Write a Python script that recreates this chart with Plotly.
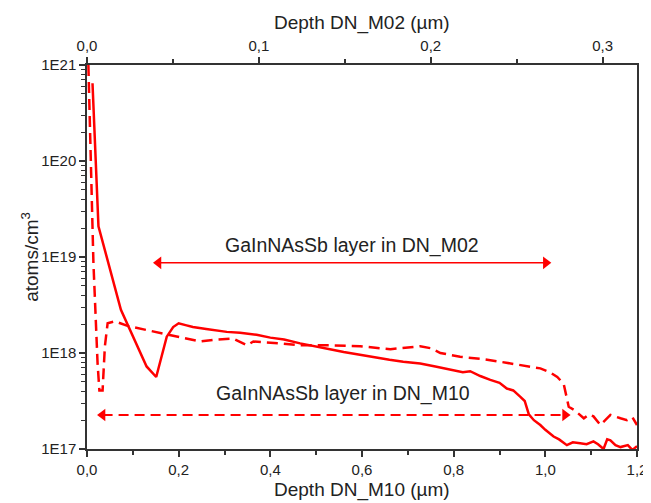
import plotly.graph_objects as go

# --- data (depth in µm on DN_M10 scale, log10 concentration) ---
m02_depth = [0.012, 0.025, 0.074, 0.13, 0.151, 0.162, 0.174, 0.188, 0.20, 0.215, 0.231,
             0.26, 0.29, 0.305, 0.334, 0.37, 0.40, 0.43, 0.465, 0.50, 0.53, 0.56, 0.596,
             0.63, 0.66, 0.69, 0.727, 0.76, 0.793, 0.82, 0.836, 0.858, 0.88, 0.90, 0.916,
             0.93, 0.945, 0.955, 0.964, 0.975, 0.989, 1.0, 1.018, 1.03, 1.047, 1.06, 1.076,
             1.09, 1.105, 1.115, 1.127, 1.135, 1.142, 1.153, 1.164, 1.18, 1.19, 1.2]
m02_log = [20.81, 19.32, 18.45, 17.86, 17.75, 17.95, 18.17, 18.27, 18.31, 18.29, 18.27,
           18.25, 18.23, 18.22, 18.21, 18.19, 18.16, 18.14, 18.10, 18.07, 18.04, 18.01, 17.98,
           17.95, 17.93, 17.91, 17.89, 17.86, 17.83, 17.80, 17.81, 17.76, 17.72, 17.69, 17.63,
           17.61, 17.545, 17.50, 17.36, 17.30, 17.25, 17.20, 17.13, 17.10, 17.04, 17.07, 17.06,
           17.05, 17.08, 17.05, 17.00, 17.10, 17.09, 17.04, 17.02, 17.04, 16.99, 17.03]

m10_depth = [0.003, 0.014, 0.023, 0.027, 0.034, 0.039, 0.045, 0.061, 0.09, 0.13, 0.181,
             0.203, 0.232, 0.247, 0.283, 0.305, 0.319, 0.349, 0.363, 0.421, 0.465, 0.531,
             0.596, 0.662, 0.727, 0.75, 0.771, 0.814, 0.858, 0.9, 0.945, 0.989, 1.01, 1.026,
             1.04, 1.047, 1.051, 1.062, 1.084, 1.095, 1.105, 1.12, 1.142, 1.164, 1.178, 1.19, 1.2]
m10_log = [21.0, 18.94, 17.9, 17.61, 17.61, 18.07, 18.31, 18.33, 18.28, 18.24, 18.19,
           18.17, 18.14, 18.12, 18.14, 18.15, 18.15, 18.08, 18.12, 18.10, 18.08, 18.08,
           18.07, 18.04, 18.07, 18.05, 18.0, 17.96, 17.94, 17.91, 17.875, 17.84, 17.80, 17.75,
           17.68, 17.545, 17.44, 17.41, 17.32, 17.36, 17.34, 17.25, 17.355, 17.32, 17.30, 17.33, 17.25]

# layer arrows: [start, end] depth and level
m02_layer = [0.142, 1.015]
m02_layer_level = 8.7e18
m10_layer = [0.02, 1.057]
m10_layer_level = 2.26e17

y_tickvals = [1e17, 1e18, 1e19, 1e20, 1e21]
y_ticktext = ["1E17", "1E18", "1E19", "1E20", "1E21"]
top_range = [0, 0.32]
bottom_range = [0, 1.2]

RED = "#ff0000"
INK = "#222222"
FONT = "Liberation Sans, Arial, sans-serif"

m02_conc = [10 ** v for v in m02_log]
m10_conc = [10 ** v for v in m10_log]

fig = go.Figure()
fig.add_trace(go.Scatter(x=m02_depth, y=m02_conc, mode="lines",
                         line=dict(color=RED, width=2.5), showlegend=False))
fig.add_trace(go.Scatter(x=m10_depth, y=m10_conc, mode="lines",
                         line=dict(color=RED, width=2.5, dash="11px,6px"), showlegend=False))

# arrows
ah = 0.014
fig.add_trace(go.Scatter(x=[m02_layer[0] + ah, m02_layer[1] - ah],
                         y=[m02_layer_level] * 2, mode="lines",
                         line=dict(color=RED, width=1.6), showlegend=False))
fig.add_trace(go.Scatter(x=[m02_layer[0] + ah, m02_layer[1] - ah],
                         y=[m02_layer_level] * 2, mode="markers",
                         marker=dict(symbol=["triangle-left", "triangle-right"], size=11,
                                     color=RED, line=dict(width=0)), showlegend=False))
fig.add_trace(go.Scatter(x=[m10_layer[0] + ah, m10_layer[1] - ah],
                         y=[m10_layer_level] * 2, mode="lines",
                         line=dict(color=RED, width=1.8, dash="10px,6px"), showlegend=False))
fig.add_trace(go.Scatter(x=[m10_layer[0] + ah, m10_layer[1] - ah],
                         y=[m10_layer_level] * 2, mode="markers",
                         marker=dict(symbol=["triangle-left", "triangle-right"], size=11,
                                     color=RED, line=dict(width=0)), showlegend=False))

# dummy trace to instantiate the top axis
fig.add_trace(go.Scatter(x=top_range, y=[None, None], xaxis="x2", mode="lines",
                         showlegend=False, hoverinfo="skip"))

# annotation y on log axis is given in log10 units
fig.add_annotation(x=0.578, y=19.125, text="GaInNAsSb layer in DN_M02", showarrow=False,
                   font=dict(size=19.5, color=INK, family=FONT), yanchor="middle")
fig.add_annotation(x=0.558, y=17.573, text="GaInNAsSb layer in DN_M10", showarrow=False,
                   font=dict(size=19.5, color=INK, family=FONT), yanchor="middle")
# axis titles
fig.add_annotation(x=0.5, xref="paper", y=-0.108, yref="paper", yanchor="middle",
                   text="Depth DN_M10 (µm)", showarrow=False,
                   font=dict(size=19, color=INK, family=FONT))
fig.add_annotation(x=0.5, xref="paper", y=1.11, yref="paper", yanchor="middle",
                   text="Depth DN_M02 (µm)", showarrow=False,
                   font=dict(size=19, color=INK, family=FONT))
fig.add_annotation(x=-0.104, xref="paper", y=0.5, yref="paper", xanchor="center",
                   yanchor="middle", textangle=-90,
                   text="atoms/cm<sup>3</sup>", showarrow=False,
                   font=dict(size=19, color=INK, family=FONT))

axis_common = dict(showline=True, linecolor="#333333", linewidth=1.5, ticks="outside",
                   tickcolor="#333333", tickwidth=1.5, ticklen=6, showgrid=False,
                   zeroline=False, automargin=False,
                   tickfont=dict(size=15, color=INK, family=FONT))

# page body has an 8px default margin, so the figure is sized to fit inside the window
fig.update_layout(
    width=643, height=495,
    margin=dict(l=79, r=14, t=57, b=54, autoexpand=False),
    paper_bgcolor="white", plot_bgcolor="white",
    separators=",.",
    font=dict(family=FONT, color=INK),
    xaxis=dict(**axis_common, range=bottom_range, dtick=0.2, tickformat=".1f",
               minor=dict(ticks="outside", dtick=0.1, ticklen=4, tickcolor="#333333", tickwidth=1.5),
               mirror=False),
    xaxis2=dict(**axis_common, range=top_range, dtick=0.1, tickformat=".1f",
                overlaying="x", side="top", anchor="y",
                minor=dict(ticks="outside", dtick=0.05, ticklen=4, tickcolor="#333333", tickwidth=1.5)),
    yaxis=dict(**axis_common, type="log", range=[17, 21], tickvals=y_tickvals, ticktext=y_ticktext,
               mirror=True,
               minor=dict(ticks="outside", dtick="D1", ticklen=4, tickcolor="#333333", tickwidth=1.2)),
)

fig.write_html("out.html")
